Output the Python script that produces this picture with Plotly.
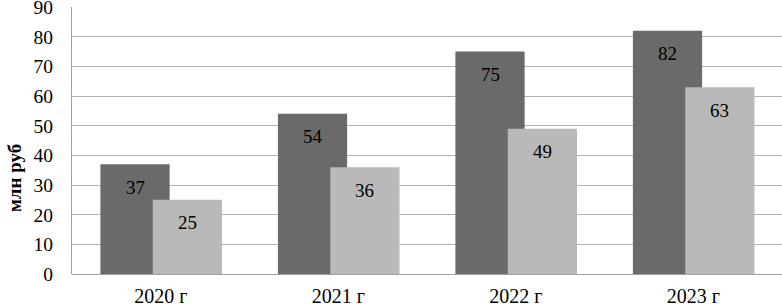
import plotly.graph_objects as go

categories = ["2020 г", "2021 г", "2022 г", "2023 г"]
series_a = [37, 54, 75, 82]
series_b = [25, 36, 49, 63]
y_ticks = [0, 10, 20, 30, 40, 50, 60, 70, 80, 90]

FONT = "Liberation Serif, Times New Roman, serif"
DARK = "#6a6a6a"
LIGHT = "#b9b9b9"

fig = go.Figure()
fig.add_trace(go.Bar(x=categories, y=series_a, marker_color=DARK, marker_line_width=0,
                     width=0.39, offset=-0.34, showlegend=False))
fig.add_trace(go.Bar(x=categories, y=series_b, marker_color=LIGHT, marker_line_width=0,
                     width=0.39, offset=-0.045, showlegend=False))

# data labels inside bars, near the top
for ser, off in ((series_a, -0.34 + 0.195), (series_b, -0.045 + 0.195)):
    for i, v in enumerate(ser):
        fig.add_annotation(x=i + off, y=v, xref="x", yref="y", text=str(v), showarrow=False,
                           yshift=-23, font=dict(family=FONT, size=19, color="black"))

fig.add_annotation(text="<b>млн руб</b>", xref="paper", yref="paper", x=-0.08, y=0.36,
                   textangle=-90, showarrow=False, xanchor="center", yanchor="middle",
                   font=dict(family=FONT, size=19, color="black"))

fig.update_layout(
    width=782, height=306,
    margin=dict(l=72, r=0, t=7, b=32),
    barmode="overlay",
    plot_bgcolor="white", paper_bgcolor="white",
    font=dict(family=FONT, size=19, color="black"),
    xaxis=dict(type="category", showgrid=False, showline=False, ticks="", automargin=False,
               tickfont=dict(family=FONT, size=20), ticklabelstandoff=8,
               range=[-0.5, 3.5]),
    yaxis=dict(range=[0, 90.02], tickvals=y_ticks, showgrid=True, gridcolor="#b3b3b3", gridwidth=1,
               showline=True, linecolor="#a0a0a0", linewidth=1, ticks="", zeroline=True,
               zerolinecolor="#a0a0a0", zerolinewidth=1, automargin=False,
               ticklabeloverflow="allow",
               tickfont=dict(family=FONT, size=19.5), ticklabelstandoff=14),
)

fig.write_html("out.html", config={"displayModeBar": False},
               post_script="document.body.style.margin='0';document.body.style.overflow='hidden';")
